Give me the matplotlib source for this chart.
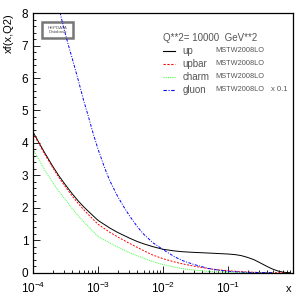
import matplotlib
matplotlib.use("Agg")
import matplotlib.pyplot as plt
from matplotlib.ticker import MultipleLocator, LogLocator, NullFormatter
from matplotlib.patches import Rectangle

plt.rcParams['font.family'] = ['Liberation Sans', 'DejaVu Sans']
plt.rcParams['mathtext.fontset'] = 'custom'
plt.rcParams['mathtext.rm'] = 'Liberation Sans'

# values (x, xf(x,Q2))
x_up = [1e-4, 1.25e-4, 1.5e-4, 2e-4, 2.5e-4, 3e-4, 4e-4, 5e-4, 6e-4, 7e-4, 8.5e-4,
        1e-3, 1.5e-3, 2e-3, 3e-3, 4e-3, 5e-3, 7e-3, 1e-2, 1.5e-2, 2e-2, 3e-2,
        5e-2, 7e-2, 0.1, 0.13, 0.16, 0.2, 0.25, 0.3, 0.35, 0.4, 0.45, 0.5,
        0.6, 0.7, 0.8, 0.9]
up = [4.33, 3.98, 3.70, 3.28, 2.98, 2.76, 2.43, 2.20, 2.03, 1.90, 1.74,
      1.61, 1.38, 1.24, 1.07, 0.96, 0.89, 0.80, 0.72, 0.67, 0.645, 0.625,
      0.605, 0.59, 0.575, 0.555, 0.525, 0.47, 0.40, 0.32, 0.25, 0.19, 0.14, 0.10,
      0.045, 0.016, 0.004, 0.0005]

x_upbar = [1e-4, 1.25e-4, 1.5e-4, 2e-4, 2.5e-4, 3e-4, 4e-4, 5e-4, 6e-4, 7e-4, 8.5e-4,
           1e-3, 1.5e-3, 2e-3, 3e-3, 4e-3, 5e-3, 7e-3, 1e-2, 1.5e-2, 2e-2, 3e-2,
           5e-2, 7e-2, 0.1, 0.15, 0.2, 0.3, 0.4, 0.5, 0.7]
upbar = [4.30, 3.95, 3.66, 3.24, 2.93, 2.70, 2.36, 2.12, 1.94, 1.80, 1.63,
         1.49, 1.25, 1.10, 0.91, 0.78, 0.68, 0.54, 0.43, 0.33, 0.27, 0.20,
         0.125, 0.09, 0.06, 0.035, 0.02, 0.007, 0.002, 0.0005, 0.0]

x_charm = [1e-4, 1.25e-4, 1.5e-4, 2e-4, 2.5e-4, 3e-4, 4e-4, 5e-4, 6e-4, 7e-4, 8.5e-4,
           1e-3, 1.5e-3, 2e-3, 3e-3, 4e-3, 5e-3, 7e-3, 1e-2, 1.5e-2, 2e-2, 3e-2,
           5e-2, 7e-2, 0.1, 0.15, 0.2, 0.3, 0.5]
charm = [3.79, 3.45, 3.17, 2.78, 2.50, 2.30, 1.97, 1.74, 1.57, 1.43, 1.26,
         1.11, 0.92, 0.79, 0.62, 0.52, 0.45, 0.34, 0.25, 0.17, 0.125, 0.08,
         0.04, 0.025, 0.015, 0.007, 0.004, 0.001, 0.0]

# gluon scaled by 0.1
x_gluon = [1e-4, 1.5e-4, 2e-4, 2.6e-4, 3e-4, 3.5e-4, 4e-4, 5e-4, 6e-4, 7e-4, 8.5e-4,
           1e-3, 1.25e-3, 1.5e-3, 2e-3, 2.5e-3, 3e-3, 4e-3, 5e-3, 7e-3, 1e-2,
           1.5e-2, 2e-2, 3e-2, 5e-2, 7e-2, 0.1, 0.15, 0.2, 0.3, 0.5]
gluon = [13.5, 10.9, 9.2, 8.0, 7.5, 7.0, 6.6, 5.9, 5.3, 4.85, 4.25,
         3.8, 3.25, 2.85, 2.35, 2.02, 1.77, 1.42, 1.19, 0.92, 0.71,
         0.49, 0.37, 0.25, 0.13, 0.08, 0.045, 0.02, 0.01, 0.003, 0.0]

fig = plt.figure(figsize=(3.04, 3.05), dpi=100)
ax = fig.add_axes([0.109, 0.106, 0.855, 0.851])

ls_up = '-'
ls_upbar = (0, (2, 1.5))
ls_charm = (0, (1, 1))
ls_gluon = (0, (3, 1.5, 1, 1.5))

ax.plot(x_up, up, color='black', lw=0.7, ls=ls_up)
ax.plot(x_upbar, upbar, color='red', lw=0.7, ls=ls_upbar)
ax.plot(x_charm, charm, color='#44ff44', lw=0.7, ls=ls_charm)
ax.plot(x_gluon, gluon, color='blue', lw=0.7, ls=ls_gluon)

ax.set_xscale('log')
ax.set_xlim(1e-4, 1.0)
ax.set_ylim(0, 8)

ax.yaxis.set_major_locator(MultipleLocator(1))
ax.yaxis.set_minor_locator(MultipleLocator(0.2))
ax.xaxis.set_minor_locator(LogLocator(base=10, subs=range(2, 10), numticks=10))
ax.xaxis.set_minor_formatter(NullFormatter())
ax.set_xticks([1e-4, 1e-3, 1e-2, 1e-1])
ax.set_xticklabels(['$10^{-4}$', '$10^{-3}$', '$10^{-2}$', '$10^{-1}$'])

ax.tick_params(which='both', direction='in', top=False, right=False, labelsize=8.5,
               width=0.6)
ax.tick_params(which='major', length=5)
ax.tick_params(which='minor', length=2.5)
ax.tick_params(axis='x', pad=6)
for s in ax.spines.values():
    s.set_linewidth(0.9)

fig.text(0.03, 0.957, 'xf(x,Q2)', rotation=90, ha='center', va='top', fontsize=8)
fig.text(0.95, 0.035, 'x', ha='center', va='bottom', fontsize=8)

# HEPDATA logo box
ax.add_patch(Rectangle((0.035, 0.905), 0.12, 0.06, transform=ax.transAxes,
                       facecolor='white', edgecolor='#777777', lw=1.8))
ax.text(0.095, 0.935, 'HEPDATA\nDatabase', transform=ax.transAxes, ha='center',
        va='center', fontsize=3.2, color='#555555', linespacing=1.0)

# legend block
tc = '#555555'
ax.text(0.5, 0.905, 'Q**2= 10000  GeV**2', transform=ax.transAxes, fontsize=7,
        color=tc, va='center')
names = ['up', 'upbar', 'charm', 'gluon']
colors = ['black', 'red', '#44ff44', 'blue']
styles = [ls_up, ls_upbar, ls_charm, ls_gluon]
for i in range(4):
    yy = 0.855 - i * 0.05
    ax.plot([0.5, 0.545], [yy, yy], transform=ax.transAxes, color=colors[i],
            ls=styles[i], lw=0.8)
    ax.text(0.575, yy, names[i], transform=ax.transAxes, fontsize=7, color=tc,
            va='center')
    ax.text(0.70, yy, 'MSTW2008LO', transform=ax.transAxes, fontsize=5.3,
            color=tc, va='center')
ax.text(0.915, 0.855 - 3 * 0.05, 'x 0.1', transform=ax.transAxes, fontsize=5.5,
        color=tc, va='center')

fig.savefig('out.png', dpi=100)
